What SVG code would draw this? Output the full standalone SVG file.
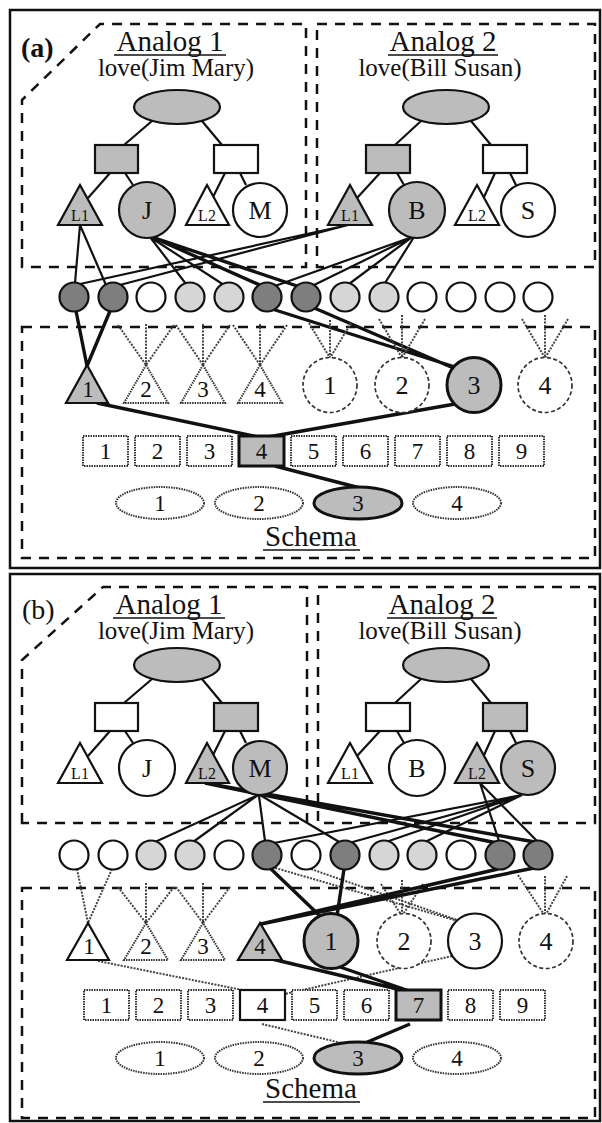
<svg xmlns="http://www.w3.org/2000/svg" width="602" height="1123" viewBox="0 0 602 1123">
<defs>
<style>
text{font-family:"Liberation Serif","Times New Roman",serif;fill:#111}
.ttl{font-size:29px;text-anchor:middle}
.sub{font-size:25px;text-anchor:middle}
.pl{font-size:28px}
.lab{font-size:26px;text-anchor:middle}
.sl{font-size:23px;text-anchor:middle}
.tl{font-size:16px;text-anchor:middle}
.frame{fill:none;stroke:#111;stroke-width:2.5}
.dash{fill:none;stroke:#111;stroke-width:2.5;stroke-dasharray:10 8}
.ul{stroke:#111;stroke-width:1.6}
.n{stroke:#111;stroke-width:2.2}
.w{fill:#fff}
.s{fill:#bcbcbc}
.l{fill:#d6d6d6}
.d{fill:#7e7e7e}
.act{stroke:#111;stroke-width:3}
.in{fill:#fff;stroke:#333;stroke-width:2;stroke-dasharray:1.5 1}
.inc{fill:#fff;stroke:#333;stroke-width:1.7;stroke-dasharray:4 2.5}
.e{fill:none;stroke:#111;stroke-width:2.2}
.eb{fill:none;stroke:#111;stroke-width:3.4}
.eg{fill:none;stroke:#444;stroke-width:2;stroke-dasharray:2 1.3}
</style>
</defs>
<rect fill="#fff" x="0" y="0" width="602" height="1123"/>

<!-- ================= PANEL A ================= -->
<g id="panel-a">
<rect class="frame" x="10" y="10" width="590" height="558"/>
<path class="dash" d="M22,267 V100 L100,24 H306 V267 Z"/>
<rect class="dash" x="317" y="24" width="278" height="243"/>
<rect class="dash" x="22" y="327" width="573" height="231"/>
<text class="pl" x="21" y="57" font-weight="bold">(a)</text>
<text class="ttl" x="170" y="51">Analog 1</text>
<line class="ul" x1="114" y1="55" x2="226" y2="55"/>
<text class="sub" x="176" y="76">love(Jim Mary)</text>
<text class="ttl" x="443" y="51">Analog 2</text>
<line class="ul" x1="388" y1="55" x2="498" y2="55"/>
<text class="sub" x="440" y="76">love(Bill Susan)</text>
<text class="ttl" x="311" y="546">Schema</text>
<line class="ul" x1="263" y1="550" x2="360" y2="550"/>

<g id="a-connectors">
<path class="e" d="M152,121 L124,145 M202,121 L222,145 M110,173 L88,198 M125,173 L133,185 M225,173 L213,197 M240,173 L246,185"/>
<path class="e" d="M421,121 L395,145 M471,121 L491,145 M380,173 L357,198 M397,173 L404,185 M495,173 L484,197 M510,173 L516,185"/>
<path class="e" d="M80,225 L75,283 M80,225 L106,285"/>
<path class="e" d="M348,225 L80,284 M348,225 L116,286"/>
<path class="e" d="M150,237 L186,284 M150,237 L224,285"/>
<path class="eb" d="M152,237 L262,286 M152,237 L300,287"/>
<path class="e" d="M412,237 L275,286 M412,237 L312,286 M412,237 L349,284 M414,237 L385,283"/>
<path class="eb" d="M76,311 L87,366 M110,311 L87,366"/>
<path class="eb" d="M272,309 L455,367 M312,307 L458,370"/>
<path class="eb" d="M97,403 L258,437 M455,404 L268,437 M275,466 L360,488"/>
<path class="eg" d="M118,325 L146,365 M146,324 L146,365 M174,325 L146,365"/>
<path class="eg" d="M176,325 L203,365 M203,324 L203,365 M230,325 L203,365"/>
<path class="eg" d="M233,325 L260,365 M260,324 L260,365 M287,325 L260,365"/>
<path class="eg" d="M309,323 L330,358 M330,320 L330,358 M351,323 L330,358"/>
<path class="eg" d="M379,319 L402,358 M402,315 L402,358 M425,319 L402,358"/>
<path class="eg" d="M522,319 L545,358 M545,315 L545,358 M568,319 L545,358"/>
</g>

<g id="a-A1-P"><ellipse class="n s" cx="177" cy="107" rx="43" ry="17"/></g>
<g id="a-A1-R1"><rect class="n s" x="95" y="145" width="43" height="28"/></g>
<g id="a-A1-R2"><rect class="n w" x="214" y="145" width="44" height="28"/></g>
<g id="a-A1-L1"><polygon class="n s" points="80,185 58,225 102,225"/><text class="tl" x="80" y="221">L1</text></g>
<g id="a-A1-J"><circle class="n s" cx="147" cy="210" r="28"/><text class="lab" x="147" y="219">J</text></g>
<g id="a-A1-L2"><polygon class="n w" points="207,185 186,225 229,225"/><text class="tl" x="207" y="221">L2</text></g>
<g id="a-A1-M"><circle class="n w" cx="260" cy="210" r="27"/><text class="lab" x="260" y="219">M</text></g>

<g id="a-A2-P"><ellipse class="n s" cx="446" cy="107" rx="43" ry="17"/></g>
<g id="a-A2-R1"><rect class="n s" x="366" y="145" width="44" height="28"/></g>
<g id="a-A2-R2"><rect class="n w" x="483" y="145" width="44" height="28"/></g>
<g id="a-A2-L1"><polygon class="n s" points="350,185 328,225 372,225"/><text class="tl" x="350" y="221">L1</text></g>
<g id="a-A2-B"><circle class="n s" cx="417" cy="210" r="28"/><text class="lab" x="417" y="219">B</text></g>
<g id="a-A2-L2"><polygon class="n w" points="477,185 455,225 499,225"/><text class="tl" x="477" y="221">L2</text></g>
<g id="a-A2-S"><circle class="n w" cx="528" cy="210" r="27"/><text class="lab" x="528" y="219">S</text></g>

<g id="a-semantics">
<circle id="a-s1" class="n d" cx="74" cy="297" r="14.5"/>
<circle id="a-s2" class="n d" cx="113" cy="297" r="14.5"/>
<circle id="a-s3" class="n w" cx="151" cy="297" r="14.5"/>
<circle id="a-s4" class="n l" cx="190" cy="297" r="14.5"/>
<circle id="a-s5" class="n l" cx="229" cy="297" r="14.5"/>
<circle id="a-s6" class="n d" cx="267" cy="297" r="14.5"/>
<circle id="a-s7" class="n d" cx="306" cy="297" r="14.5"/>
<circle id="a-s8" class="n l" cx="345" cy="297" r="14.5"/>
<circle id="a-s9" class="n l" cx="384" cy="297" r="14.5"/>
<circle id="a-s10" class="n w" cx="422" cy="297" r="14.5"/>
<circle id="a-s11" class="n w" cx="461" cy="297" r="14.5"/>
<circle id="a-s12" class="n w" cx="500" cy="297" r="14.5"/>
<circle id="a-s13" class="n w" cx="538" cy="297" r="14.5"/>
</g>

<g id="a-T1"><polygon class="n s" points="87,365 66,403 108,403"/><text class="sl" x="88" y="397">1</text></g>
<g id="a-T2"><polygon class="in" points="146,365 124,403 168,403"/><text class="sl" x="146" y="397">2</text></g>
<g id="a-T3"><polygon class="in" points="203,365 181,403 225,403"/><text class="sl" x="203" y="397">3</text></g>
<g id="a-T4"><polygon class="in" points="260,365 238,403 282,403"/><text class="sl" x="260" y="397">4</text></g>
<g id="a-C1"><ellipse class="inc" cx="330" cy="385" rx="27" ry="27.5"/><text class="lab" x="330" y="394">1</text></g>
<g id="a-C2"><ellipse class="inc" cx="402" cy="385" rx="27" ry="27.5"/><text class="lab" x="402" y="394">2</text></g>
<g id="a-C3"><ellipse class="act s" cx="474" cy="385" rx="27" ry="27.5"/><text class="lab" x="474" y="394">3</text></g>
<g id="a-C4"><ellipse class="inc" cx="545" cy="385" rx="27" ry="27.5"/><text class="lab" x="545" y="394">4</text></g>

<g id="a-Q1"><rect class="in" x="83" y="436" width="45" height="30"/><text class="sl" x="105.5" y="459">1</text></g>
<g id="a-Q2"><rect class="in" x="135" y="436" width="45" height="30"/><text class="sl" x="157.5" y="459">2</text></g>
<g id="a-Q3"><rect class="in" x="187" y="436" width="45" height="30"/><text class="sl" x="209.5" y="459">3</text></g>
<g id="a-Q4"><rect class="act s" x="239" y="436" width="45" height="30"/><text class="sl" x="261.5" y="459">4</text></g>
<g id="a-Q5"><rect class="in" x="291" y="436" width="45" height="30"/><text class="sl" x="313.5" y="459">5</text></g>
<g id="a-Q6"><rect class="in" x="343" y="436" width="45" height="30"/><text class="sl" x="365.5" y="459">6</text></g>
<g id="a-Q7"><rect class="in" x="395" y="436" width="45" height="30"/><text class="sl" x="417.5" y="459">7</text></g>
<g id="a-Q8"><rect class="in" x="447" y="436" width="45" height="30"/><text class="sl" x="469.5" y="459">8</text></g>
<g id="a-Q9"><rect class="in" x="499" y="436" width="45" height="30"/><text class="sl" x="521.5" y="459">9</text></g>

<g id="a-E1"><ellipse class="in" cx="160" cy="503" rx="44" ry="16"/><text class="sl" x="160" y="511">1</text></g>
<g id="a-E2"><ellipse class="in" cx="259" cy="503" rx="44" ry="16"/><text class="sl" x="259" y="511">2</text></g>
<g id="a-E3"><ellipse class="act s" cx="358" cy="503" rx="44" ry="16"/><text class="sl" x="358" y="511">3</text></g>
<g id="a-E4"><ellipse class="in" cx="457" cy="503" rx="44" ry="16"/><text class="sl" x="457" y="511">4</text></g>
</g>

<!-- ================= PANEL B ================= -->
<g id="panel-b">
<rect class="frame" x="10" y="574" width="590" height="547"/>
<g transform="translate(0,558)">
<path class="dash" d="M22,265 V102 L103,29 H307 V265 Z"/>
<rect class="dash" x="318" y="29" width="277" height="236"/>
<rect class="dash" x="22" y="330" width="573" height="230"/>
<text class="pl" x="22" y="61">(b)</text>
<text class="ttl" x="169" y="56">Analog 1</text>
<line class="ul" x1="113" y1="60" x2="225" y2="60"/>
<text class="sub" x="176" y="81">love(Jim Mary)</text>
<text class="ttl" x="442" y="56">Analog 2</text>
<line class="ul" x1="387" y1="60" x2="497" y2="60"/>
<text class="sub" x="440" y="81">love(Bill Susan)</text>
<text class="ttl" x="311" y="540">Schema</text>
<line class="ul" x1="263" y1="544" x2="360" y2="544"/>

<g id="b-connectors">
<path class="e" d="M152,121 L124,145 M202,121 L222,145 M110,173 L88,198 M125,173 L133,185 M225,173 L213,197 M240,173 L246,185"/>
<path class="e" d="M421,121 L395,145 M471,121 L491,145 M380,173 L357,198 M397,173 L404,185 M495,173 L484,197 M510,173 L516,185"/>
<path class="e" d="M258,237 L155,284 M258,237 L193,284 M259,238 L265,283 M260,237 L341,285"/>
<path class="eb" d="M205,225 L497,285 M205,225 L535,284"/>
<path class="e" d="M522,237 L274,285 M522,237 L349,285 M522,237 L386,284 M522,237 L425,284"/>
<path class="e" d="M480,225 L499,283 M480,225 L537,283"/>
<path class="eg" d="M77,311 L88,365 M112,311 L88,365"/>
<path class="eg" d="M118,329 L146,365 M146,325 L146,365 M174,329 L146,365"/>
<path class="eg" d="M176,329 L203,365 M203,325 L203,365 M230,329 L203,365"/>
<path class="eg" d="M381,326 L402,358 M402,322 L402,358 M423,326 L402,358"/>
<path class="eg" d="M518,317 L545,358 M545,318 L545,358 M567,318 L545,358"/>
<path class="eg" d="M272,309 L458,363 M308,310 L460,363"/>
<path class="eg" d="M98,403 L262,436 M452,398 L285,436 M262,466 L354,488"/>
<path class="eb" d="M270,310 L321,359 M344,311 L337,358"/>
<path class="eb" d="M534,310 L261,366 M498,311 L261,366"/>
<path class="eb" d="M272,401 L418,436 M340,409 L418,436 M410,466 L358,488"/>
</g>

<g id="b-A1-P"><ellipse class="n s" cx="177" cy="107" rx="43" ry="17"/></g>
<g id="b-A1-R1"><rect class="n w" x="95" y="145" width="43" height="28"/></g>
<g id="b-A1-R2"><rect class="n s" x="214" y="145" width="44" height="28"/></g>
<g id="b-A1-L1"><polygon class="n w" points="80,185 58,225 102,225"/><text class="tl" x="80" y="221">L1</text></g>
<g id="b-A1-J"><circle class="n w" cx="147" cy="210" r="28"/><text class="lab" x="147" y="219">J</text></g>
<g id="b-A1-L2"><polygon class="n s" points="207,185 186,225 229,225"/><text class="tl" x="207" y="221">L2</text></g>
<g id="b-A1-M"><circle class="n s" cx="260" cy="210" r="27"/><text class="lab" x="260" y="219">M</text></g>

<g id="b-A2-P"><ellipse class="n s" cx="446" cy="107" rx="43" ry="17"/></g>
<g id="b-A2-R1"><rect class="n w" x="366" y="145" width="44" height="28"/></g>
<g id="b-A2-R2"><rect class="n s" x="483" y="145" width="44" height="28"/></g>
<g id="b-A2-L1"><polygon class="n w" points="350,185 328,225 372,225"/><text class="tl" x="350" y="221">L1</text></g>
<g id="b-A2-B"><circle class="n w" cx="417" cy="210" r="28"/><text class="lab" x="417" y="219">B</text></g>
<g id="b-A2-L2"><polygon class="n s" points="477,185 455,225 499,225"/><text class="tl" x="477" y="221">L2</text></g>
<g id="b-A2-S"><circle class="n s" cx="528" cy="210" r="27"/><text class="lab" x="528" y="219">S</text></g>

<g id="b-semantics">
<circle id="b-s1" class="n w" cx="74" cy="297" r="14.5"/>
<circle id="b-s2" class="n w" cx="113" cy="297" r="14.5"/>
<circle id="b-s3" class="n l" cx="151" cy="297" r="14.5"/>
<circle id="b-s4" class="n l" cx="190" cy="297" r="14.5"/>
<circle id="b-s5" class="n w" cx="229" cy="297" r="14.5"/>
<circle id="b-s6" class="n d" cx="267" cy="297" r="14.5"/>
<circle id="b-s7" class="n w" cx="306" cy="297" r="14.5"/>
<circle id="b-s8" class="n d" cx="345" cy="297" r="14.5"/>
<circle id="b-s9" class="n l" cx="384" cy="297" r="14.5"/>
<circle id="b-s10" class="n l" cx="422" cy="297" r="14.5"/>
<circle id="b-s11" class="n w" cx="461" cy="297" r="14.5"/>
<circle id="b-s12" class="n d" cx="500" cy="297" r="14.5"/>
<circle id="b-s13" class="n d" cx="538" cy="297" r="14.5"/>
</g>

<g id="b-T1"><polygon class="n w" points="88,365 67,402 109,402"/><text class="sl" x="89" y="396">1</text></g>
<g id="b-T2"><polygon class="in" points="146,365 124,402 168,402"/><text class="sl" x="146" y="396">2</text></g>
<g id="b-T3"><polygon class="in" points="203,365 181,402 225,402"/><text class="sl" x="203" y="396">3</text></g>
<g id="b-T4"><polygon class="n s" points="260,365 238,402 282,402"/><text class="sl" x="260" y="396">4</text></g>
<g id="b-C1"><ellipse class="act s" cx="331" cy="383" rx="27" ry="27.5"/><text class="lab" x="331" y="392">1</text></g>
<g id="b-C2"><ellipse class="inc" cx="404" cy="383" rx="27" ry="27.5"/><text class="lab" x="404" y="392">2</text></g>
<g id="b-C3"><ellipse class="n w" cx="475" cy="383" rx="27" ry="27.5"/><text class="lab" x="475" y="392">3</text></g>
<g id="b-C4"><ellipse class="inc" cx="546" cy="383" rx="27" ry="27.5"/><text class="lab" x="546" y="392">4</text></g>

<g id="b-Q1"><rect class="in" x="84" y="432" width="45" height="30"/><text class="sl" x="106.5" y="455">1</text></g>
<g id="b-Q2"><rect class="in" x="136" y="432" width="45" height="30"/><text class="sl" x="158.5" y="455">2</text></g>
<g id="b-Q3"><rect class="in" x="188" y="432" width="45" height="30"/><text class="sl" x="210.5" y="455">3</text></g>
<g id="b-Q4"><rect class="n w" x="240" y="432" width="45" height="30"/><text class="sl" x="262.5" y="455">4</text></g>
<g id="b-Q5"><rect class="in" x="292" y="432" width="45" height="30"/><text class="sl" x="314.5" y="455">5</text></g>
<g id="b-Q6"><rect class="in" x="344" y="432" width="45" height="30"/><text class="sl" x="366.5" y="455">6</text></g>
<g id="b-Q7"><rect class="act s" x="396" y="432" width="45" height="30"/><text class="sl" x="418.5" y="455">7</text></g>
<g id="b-Q8"><rect class="in" x="448" y="432" width="45" height="30"/><text class="sl" x="470.5" y="455">8</text></g>
<g id="b-Q9"><rect class="in" x="500" y="432" width="45" height="30"/><text class="sl" x="522.5" y="455">9</text></g>

<g id="b-E1"><ellipse class="in" cx="160" cy="500" rx="44" ry="16"/><text class="sl" x="160" y="508">1</text></g>
<g id="b-E2"><ellipse class="in" cx="259" cy="500" rx="44" ry="16"/><text class="sl" x="259" y="508">2</text></g>
<g id="b-E3"><ellipse class="act s" cx="358" cy="500" rx="44" ry="16"/><text class="sl" x="358" y="508">3</text></g>
<g id="b-E4"><ellipse class="in" cx="457" cy="500" rx="44" ry="16"/><text class="sl" x="457" y="508">4</text></g>
</g>
</g>
</svg>
